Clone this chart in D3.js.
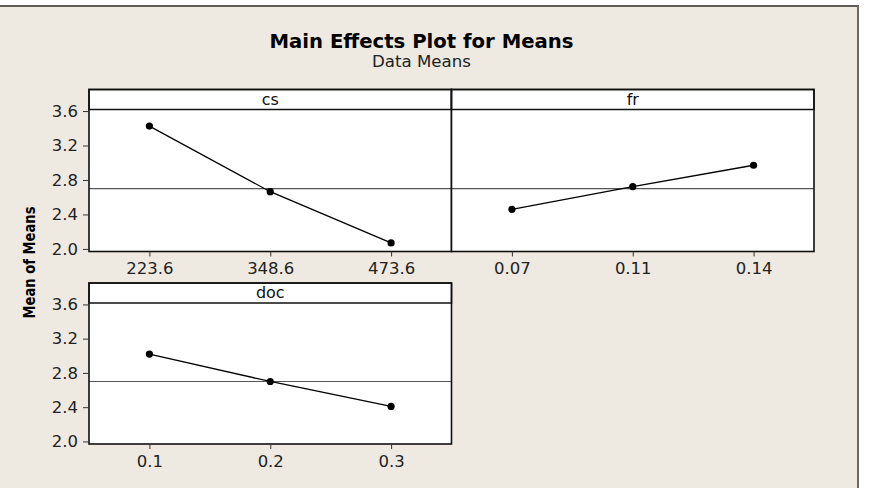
<!DOCTYPE html>
<html>
<head>
<meta charset="utf-8">
<script src="https://cdn.jsdelivr.net/npm/d3@7"></script>
<style>
  body { margin: 0; background: #fff; }
  text { font-family: "DejaVu Sans", Verdana, sans-serif; }
</style>
</head>
<body>
<div id="chart"></div>
<script>
// factor levels and the mean response at each level
var factors = ['cs', 'fr', 'doc'];
var csLevels = ['223.6', '348.6', '473.6'];
var csMeans = [3.425, 2.664, 2.070];
var frLevels = ['0.07', '0.11', '0.14'];
var frMeans = [2.459, 2.722, 2.971];
var docLevels = ['0.1', '0.2', '0.3'];
var docMeans = [3.020, 2.700, 2.409];
var grandMean = 2.70;
var yTicks = [2.0, 2.4, 2.8, 3.2, 3.6];

var width = 870, height = 488;

var svg = d3.select('#chart').append('svg')
    .attr('width', width)
    .attr('height', height);

// beige frame
svg.append('rect')
    .attr('x', 0).attr('y', 6)
    .attr('width', 858).attr('height', height - 6)
    .attr('fill', '#eeeae1');
svg.append('line')
    .attr('x1', 0).attr('x2', 859).attr('y1', 6).attr('y2', 6)
    .attr('stroke', '#5e5c58').attr('stroke-width', 2);
svg.append('line')
    .attr('x1', 858).attr('x2', 858).attr('y1', 6).attr('y2', height)
    .attr('stroke', '#6d6a64').attr('stroke-width', 2);

svg.append('text')
    .attr('x', 421.5).attr('y', 48)
    .attr('text-anchor', 'middle')
    .attr('font-weight', 'bold')
    .attr('font-size', 20)
    .attr('textLength', 304)
    .attr('lengthAdjust', 'spacingAndGlyphs')
    .text('Main Effects Plot for Means');

svg.append('text')
    .attr('x', 421.5).attr('y', 66.5)
    .attr('text-anchor', 'middle')
    .attr('font-size', 15)
    .attr('fill', '#222')
    .attr('textLength', 99)
    .attr('lengthAdjust', 'spacingAndGlyphs')
    .text('Data Means');

svg.append('text')
    .attr('transform', 'translate(35,262.5) rotate(-90)')
    .attr('text-anchor', 'middle')
    .attr('font-weight', 'bold')
    .attr('font-size', 16.5)
    .attr('textLength', 112)
    .attr('lengthAdjust', 'spacingAndGlyphs')
    .text('Mean of Means');

var panels = [
  {name: factors[0], levels: csLevels, means: csMeans, x0: 89, x1: 451.5, y0: 89.5, y1: 251.5, yAxis: true},
  {name: factors[1], levels: frLevels, means: frMeans, x0: 451.5, x1: 814, y0: 89.5, y1: 251.5, yAxis: false},
  {name: factors[2], levels: docLevels, means: docMeans, x0: 89, x1: 451.5, y0: 283, y1: 444, yAxis: true}
];

var headerH = 20;

panels.forEach(function(p) {
  var g = svg.append('g');
  var x = d3.scalePoint().domain(p.levels).range([p.x0, p.x1]).padding(0.5);
  var y = d3.scaleLinear().domain([1.97, 3.85]).range([p.y1, p.y0]);

  g.append('rect')
      .attr('x', p.x0).attr('y', p.y0)
      .attr('width', p.x1 - p.x0).attr('height', p.y1 - p.y0)
      .attr('fill', '#fff');

  // grand mean reference line
  g.append('line')
      .attr('x1', p.x0).attr('x2', p.x1)
      .attr('y1', y(grandMean)).attr('y2', y(grandMean))
      .attr('stroke', '#555').attr('stroke-width', 1.2);

  var line = d3.line()
      .x(function(d, i) { return x(p.levels[i]); })
      .y(function(d) { return y(d); });

  g.append('path')
      .datum(p.means)
      .attr('d', line)
      .attr('fill', 'none')
      .attr('stroke', '#000')
      .attr('stroke-width', 1.3);

  g.selectAll('circle')
      .data(p.means)
    .enter().append('circle')
      .attr('cx', function(d, i) { return x(p.levels[i]); })
      .attr('cy', function(d) { return y(d); })
      .attr('r', 3.6)
      .attr('fill', '#000');

  // strip header
  g.append('rect')
      .attr('x', p.x0).attr('y', p.y0)
      .attr('width', p.x1 - p.x0).attr('height', headerH)
      .attr('fill', '#fff')
      .attr('stroke', '#111').attr('stroke-width', 1.5);
  g.append('text')
      .attr('x', (p.x0 + p.x1) / 2).attr('y', p.y0 + headerH / 2)
      .attr('dy', '0.33em')
      .attr('text-anchor', 'middle')
      .attr('font-size', 16)
      .attr('fill', '#111')
      .text(p.name);

  g.append('rect')
      .attr('x', p.x0).attr('y', p.y0)
      .attr('width', p.x1 - p.x0).attr('height', p.y1 - p.y0)
      .attr('fill', 'none')
      .attr('stroke', '#111').attr('stroke-width', 1.6);

  var xAxis = g.append('g')
      .attr('transform', 'translate(0,' + p.y1 + ')')
      .call(d3.axisBottom(x).tickSize(5).tickPadding(6));
  xAxis.select('.domain').remove();
  xAxis.selectAll('text')
      .attr('font-family', '"DejaVu Sans", Verdana, sans-serif')
      .attr('font-size', 16.5)
      .attr('fill', '#222');
  xAxis.selectAll('line').attr('stroke', '#333');

  if (p.yAxis) {
    var yAxis = g.append('g')
        .attr('transform', 'translate(' + p.x0 + ',0)')
        .call(d3.axisLeft(y).tickValues(yTicks).tickFormat(d3.format('.1f')).tickSize(6).tickPadding(5));
    yAxis.select('.domain').remove();
    yAxis.selectAll('text')
        .attr('font-family', '"DejaVu Sans", Verdana, sans-serif')
        .attr('font-size', 16.5)
        .attr('fill', '#222');
    yAxis.selectAll('line').attr('stroke', '#333');
  }
});
</script>
</body>
</html>
